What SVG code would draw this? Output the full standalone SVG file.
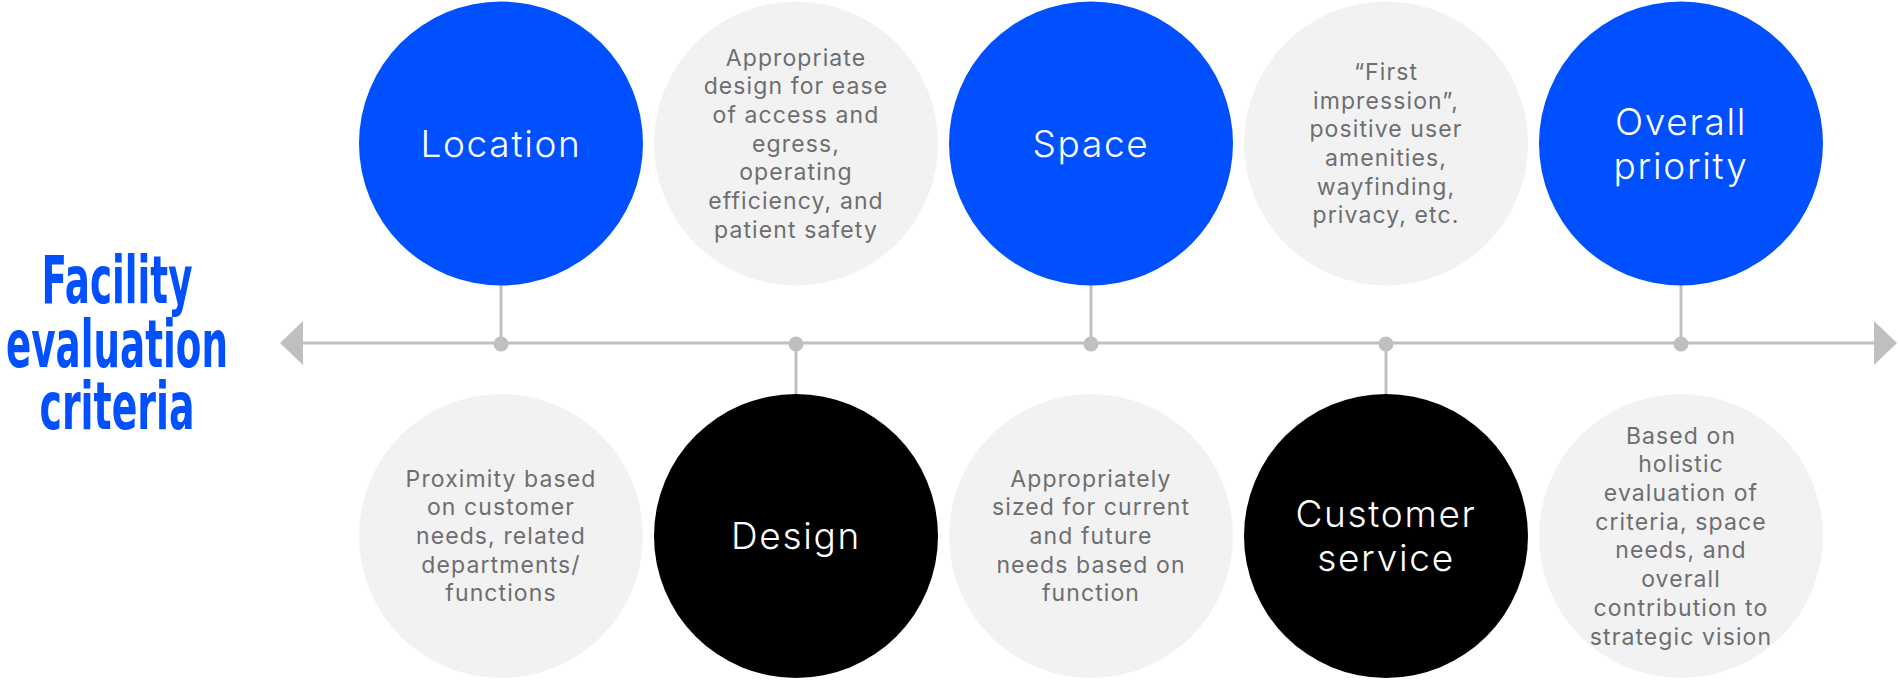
<svg xmlns="http://www.w3.org/2000/svg" width="1898" height="680" viewBox="0 0 1898 680">
  <style>
    .blue { fill: #0050FF; }
    .dark { fill: #000000; }
    .soft { fill: #F2F2F2; }
    .label { font-family: Inter, "Open Sans", "Liberation Sans", sans-serif; font-size: 37px; font-weight: 300; letter-spacing: 1.7px; fill: #FFFFFF; text-anchor: middle; }
    .desc { font-family: Inter, "Open Sans", "Liberation Sans", sans-serif; font-size: 23px; font-weight: 400; letter-spacing: 1.1px; fill: #6D6E71; text-anchor: middle; }
    .title { font-family: "DejaVu Sans", "Liberation Sans", sans-serif; font-size: 66px; font-weight: 700; fill: #0050FF; text-anchor: middle; }
    .axis { stroke: #BFBFBF; stroke-width: 3; fill: none; }
    .stem { stroke: #BFBFBF; stroke-width: 3; }
    .dot { fill: #BFBFBF; }
  </style>
  <defs>
    <marker id="arrowhead" markerUnits="userSpaceOnUse" markerWidth="23" markerHeight="44" refX="0" refY="22" orient="auto-start-reverse" viewBox="0 0 23 44">
      <path d="M0,0 L23,22 L0,44 Z" fill="#BFBFBF"/>
    </marker>
  </defs>

  <!-- Heading -->
  <g id="heading">
    <text class="title" x="117" y="303" textLength="151" lengthAdjust="spacingAndGlyphs">Facility</text>
    <text class="title" x="117" y="367" textLength="222" lengthAdjust="spacingAndGlyphs">evaluation</text>
    <text class="title" x="117" y="429" textLength="155" lengthAdjust="spacingAndGlyphs">criteria</text>
  </g>

  <!-- Timeline axis, stems and dots -->
  <g id="connectors">
    <line class="axis" x1="303" y1="343" x2="1874" y2="343" marker-start="url(#arrowhead)" marker-end="url(#arrowhead)"/>
    <line class="stem" x1="501" y1="285" x2="501" y2="343"/>
    <line class="stem" x1="1091" y1="285" x2="1091" y2="343"/>
    <line class="stem" x1="1681" y1="285" x2="1681" y2="343"/>
    <line class="stem" x1="796" y1="343" x2="796" y2="395"/>
    <line class="stem" x1="1386" y1="343" x2="1386" y2="395"/>
    <circle class="dot" cx="501" cy="344" r="7.5"/>
    <circle class="dot" cx="796" cy="344" r="7.5"/>
    <circle class="dot" cx="1091" cy="344" r="7.5"/>
    <circle class="dot" cx="1386" cy="344" r="7.5"/>
    <circle class="dot" cx="1681" cy="344" r="7.5"/>
  </g>

  <!-- Top row -->
  <g id="location">
    <circle class="blue" cx="501" cy="143.5" r="142"/>
    <text class="label" x="501" y="157">Location</text>
  </g>
  <g id="design-note">
    <circle class="soft" cx="796" cy="143.5" r="142"/>
    <text class="desc" x="796" y="65.5">Appropriate</text>
    <text class="desc" x="796" y="94.2">design for ease</text>
    <text class="desc" x="796" y="122.9">of access and</text>
    <text class="desc" x="796" y="151.6">egress,</text>
    <text class="desc" x="796" y="180.3">operating</text>
    <text class="desc" x="796" y="209">efficiency, and</text>
    <text class="desc" x="796" y="237.7">patient safety</text>
  </g>
  <g id="space">
    <circle class="blue" cx="1091" cy="143.5" r="142"/>
    <text class="label" x="1091" y="157">Space</text>
  </g>
  <g id="service-note">
    <circle class="soft" cx="1386" cy="143.5" r="142"/>
    <text class="desc" x="1386" y="79.8">“First</text>
    <text class="desc" x="1386" y="108.5">impression”,</text>
    <text class="desc" x="1386" y="137.2">positive user</text>
    <text class="desc" x="1386" y="165.9">amenities,</text>
    <text class="desc" x="1386" y="194.6">wayfinding,</text>
    <text class="desc" x="1386" y="223.3">privacy, etc.</text>
  </g>
  <g id="overall-priority">
    <circle class="blue" cx="1681" cy="143.5" r="142"/>
    <text class="label" x="1681" y="134.5">Overall</text>
    <text class="label" x="1681" y="178.5">priority</text>
  </g>

  <!-- Bottom row -->
  <g id="location-note">
    <circle class="soft" cx="501" cy="536" r="142"/>
    <text class="desc" x="501" y="486.6">Proximity based</text>
    <text class="desc" x="501" y="515.3">on customer</text>
    <text class="desc" x="501" y="544">needs, related</text>
    <text class="desc" x="501" y="572.7">departments/</text>
    <text class="desc" x="501" y="601.4">functions</text>
  </g>
  <g id="design">
    <circle class="dark" cx="796" cy="536" r="142"/>
    <text class="label" x="796" y="549">Design</text>
  </g>
  <g id="space-note">
    <circle class="soft" cx="1091" cy="536" r="142"/>
    <text class="desc" x="1091" y="486.6">Appropriately</text>
    <text class="desc" x="1091" y="515.3">sized for current</text>
    <text class="desc" x="1091" y="544">and future</text>
    <text class="desc" x="1091" y="572.7">needs based on</text>
    <text class="desc" x="1091" y="601.4">function</text>
  </g>
  <g id="customer-service">
    <circle class="dark" cx="1386" cy="536" r="142"/>
    <text class="label" x="1386" y="527">Customer</text>
    <text class="label" x="1386" y="570.5">service</text>
  </g>
  <g id="priority-note">
    <circle class="soft" cx="1681" cy="536" r="142"/>
    <text class="desc" x="1681" y="443.6">Based on</text>
    <text class="desc" x="1681" y="472.3">holistic</text>
    <text class="desc" x="1681" y="501">evaluation of</text>
    <text class="desc" x="1681" y="529.7">criteria, space</text>
    <text class="desc" x="1681" y="558.4">needs, and</text>
    <text class="desc" x="1681" y="587.1">overall</text>
    <text class="desc" x="1681" y="615.8">contribution to</text>
    <text class="desc" x="1681" y="644.5">strategic vision</text>
  </g>
</svg>
